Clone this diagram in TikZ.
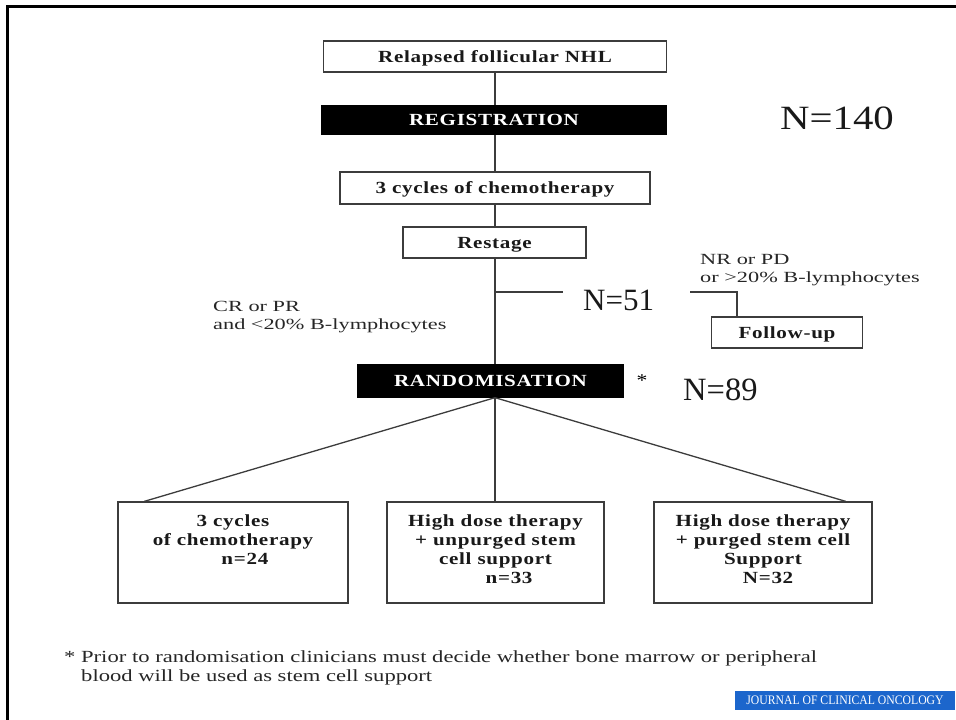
\documentclass[tikz,border=0pt]{standalone}
\usepackage{fontspec}
\setmainfont[FakeStretch=1.2]{Liberation Serif}
\newfontfamily\boxfont[FakeStretch=1.24,LetterSpace=4]{Liberation Serif}
\newfontfamily\lblfont[FakeStretch=1.44]{Liberation Serif}
\newfontfamily\fnfont[FakeStretch=1.33]{Liberation Serif}
\newfontfamily\nfont{Liberation Serif}
\newfontfamily\jfont[FakeStretch=0.9]{Liberation Serif}
\definecolor{jcoblue}{RGB}{28,102,204}
\definecolor{lineg}{RGB}{60,60,60}
\tikzset{
  wbox/.style={draw=lineg, line width=1.3pt, fill=white, inner sep=0pt, text depth=0pt, font=\boxfont\bfseries\fontsize{17}{19}\selectfont, text=black!90},
  bbox/.style={draw=black, line width=1.3pt, fill=black, inner sep=0pt, text depth=0pt, font=\boxfont\bfseries\fontsize{17}{19}\selectfont, text=white},
  conn/.style={draw=lineg, line width=1.3pt},
  lbl/.style={font=\lblfont\fontsize{15.5}{18}\selectfont, text=black!85, align=left, inner sep=0pt},
  bign/.style={text=black!90, inner sep=0pt},
  btxt/.style={font=\boxfont\bfseries\fontsize{17}{19}\selectfont, text=black!90, align=center, inner sep=0pt},
  fn/.style={font=\fnfont\fontsize{17}{19}\selectfont, text=black!85, anchor=west, inner sep=0pt},
}
\begin{document}
\begin{tikzpicture}[x=1pt,y=-1pt]
\path[use as bounding box] (0,0) rectangle (956,720);
% frame
\draw[line width=3pt, black] (956,6) -- (7,6) -- (7,720);
% main chain
\node[wbox, minimum width=343pt, minimum height=31pt] (relapse) at (495,56.5) {Relapsed follicular NHL};
\node[bbox, minimum width=344pt, minimum height=28pt] (reg) at (494,120) {REGISTRATION};
\node[wbox, minimum width=310pt, minimum height=32pt] (chemo) at (495,188) {3 cycles of chemotherapy};
\node[wbox, minimum width=183pt, minimum height=31pt] (restage) at (494.5,242.5) {Restage};
\node[wbox, minimum width=151pt, minimum height=31pt] (followup) at (787,332.5) {Follow-up};
\node[bbox, minimum width=265pt, minimum height=32pt] (rand) at (490.5,381) {RANDOMISATION};
% bottom boxes
\node[wbox, minimum width=230pt, minimum height=101pt] (b1) at (233,552.5) {};
\node[wbox, minimum width=217pt, minimum height=101pt] (b2) at (495.5,552.5) {};
\node[wbox, minimum width=218pt, minimum height=101pt] (b3) at (763,552.5) {};
\node[btxt, anchor=north] (b1t) at ([yshift=-13pt]b1.north) {3 cycles\\of chemotherapy\\\hspace{1.4em}n=24};
\node[btxt, anchor=north] (b2t) at ([yshift=-13pt]b2.north) {High dose therapy\\+ unpurged stem\\cell support\\\hspace{1.6em}n=33};
\node[btxt, anchor=north] (b3t) at ([yshift=-13pt]b3.north) {High dose therapy\\+ purged stem cell\\Support\\\hspace{0.6em}N=32};
% connectors
\draw[conn] (relapse.south) -- (relapse.south |- reg.north);
\draw[conn] (reg.south -| relapse.south) -- (chemo.north -| relapse.south);
\draw[conn] (chemo.south -| relapse.south) -- (restage.north -| relapse.south);
\coordinate (rs) at (restage.south -| relapse.south);
\coordinate (rt) at (rand.north -| relapse.south);
\draw[conn] (rs) -- (rt);
\coordinate (br0) at (495,292);
\coordinate (br1) at (563,292);
\draw[conn] (br0) -- (br1);
\coordinate (fu0) at (690,292);
\coordinate (fu1) at (737,292);
\draw[conn] (fu0) -- (fu1) -- (fu1 |- followup.north);
\coordinate (rb) at (rand.south -| relapse.south);
\draw[conn] (rb) -- ([xshift=27pt]b1.north west);
\draw[conn] (rb) -- (b2.north -| rb);
\draw[conn] (rb) -- ([xshift=-27pt]b3.north east);
% labels
\node[bign, font=\fontsize{34}{34}\selectfont, anchor=west] (n140) at (780,118) {N=140};
\node[bign, font=\nfont\fontsize{31}{31}\selectfont, anchor=west] (n51) at (583,300) {N=51};
\node[bign, font=\nfont\fontsize{32.5}{32.5}\selectfont, anchor=west] (n89) at (683,390) {N=89};
\node[font=\fontsize{18}{18}\selectfont, inner sep=0pt] (ast) at (642,381) {*};
\node[lbl, anchor=north west] (crpr) at (213,301) {CR or PR\\and <20\% B-lymphocytes};
\node[lbl, anchor=north west] (nrpd) at (700,254) {NR or PD\\or >20\% B-lymphocytes};
% footnote
\node[fn] (fn1) at (64,658) {* Prior to randomisation clinicians must decide whether bone marrow or peripheral};
\node[fn] (fn2) at (81,677) {blood will be used as stem cell support};
% journal tag
\node[fill=jcoblue, text=white, minimum width=220pt, minimum height=19pt, inner sep=0pt, font=\jfont\fontsize{13}{13}\selectfont] (jco) at (845,700.5) {JOURNAL OF CLINICAL ONCOLOGY};
\end{tikzpicture}
\end{document}
